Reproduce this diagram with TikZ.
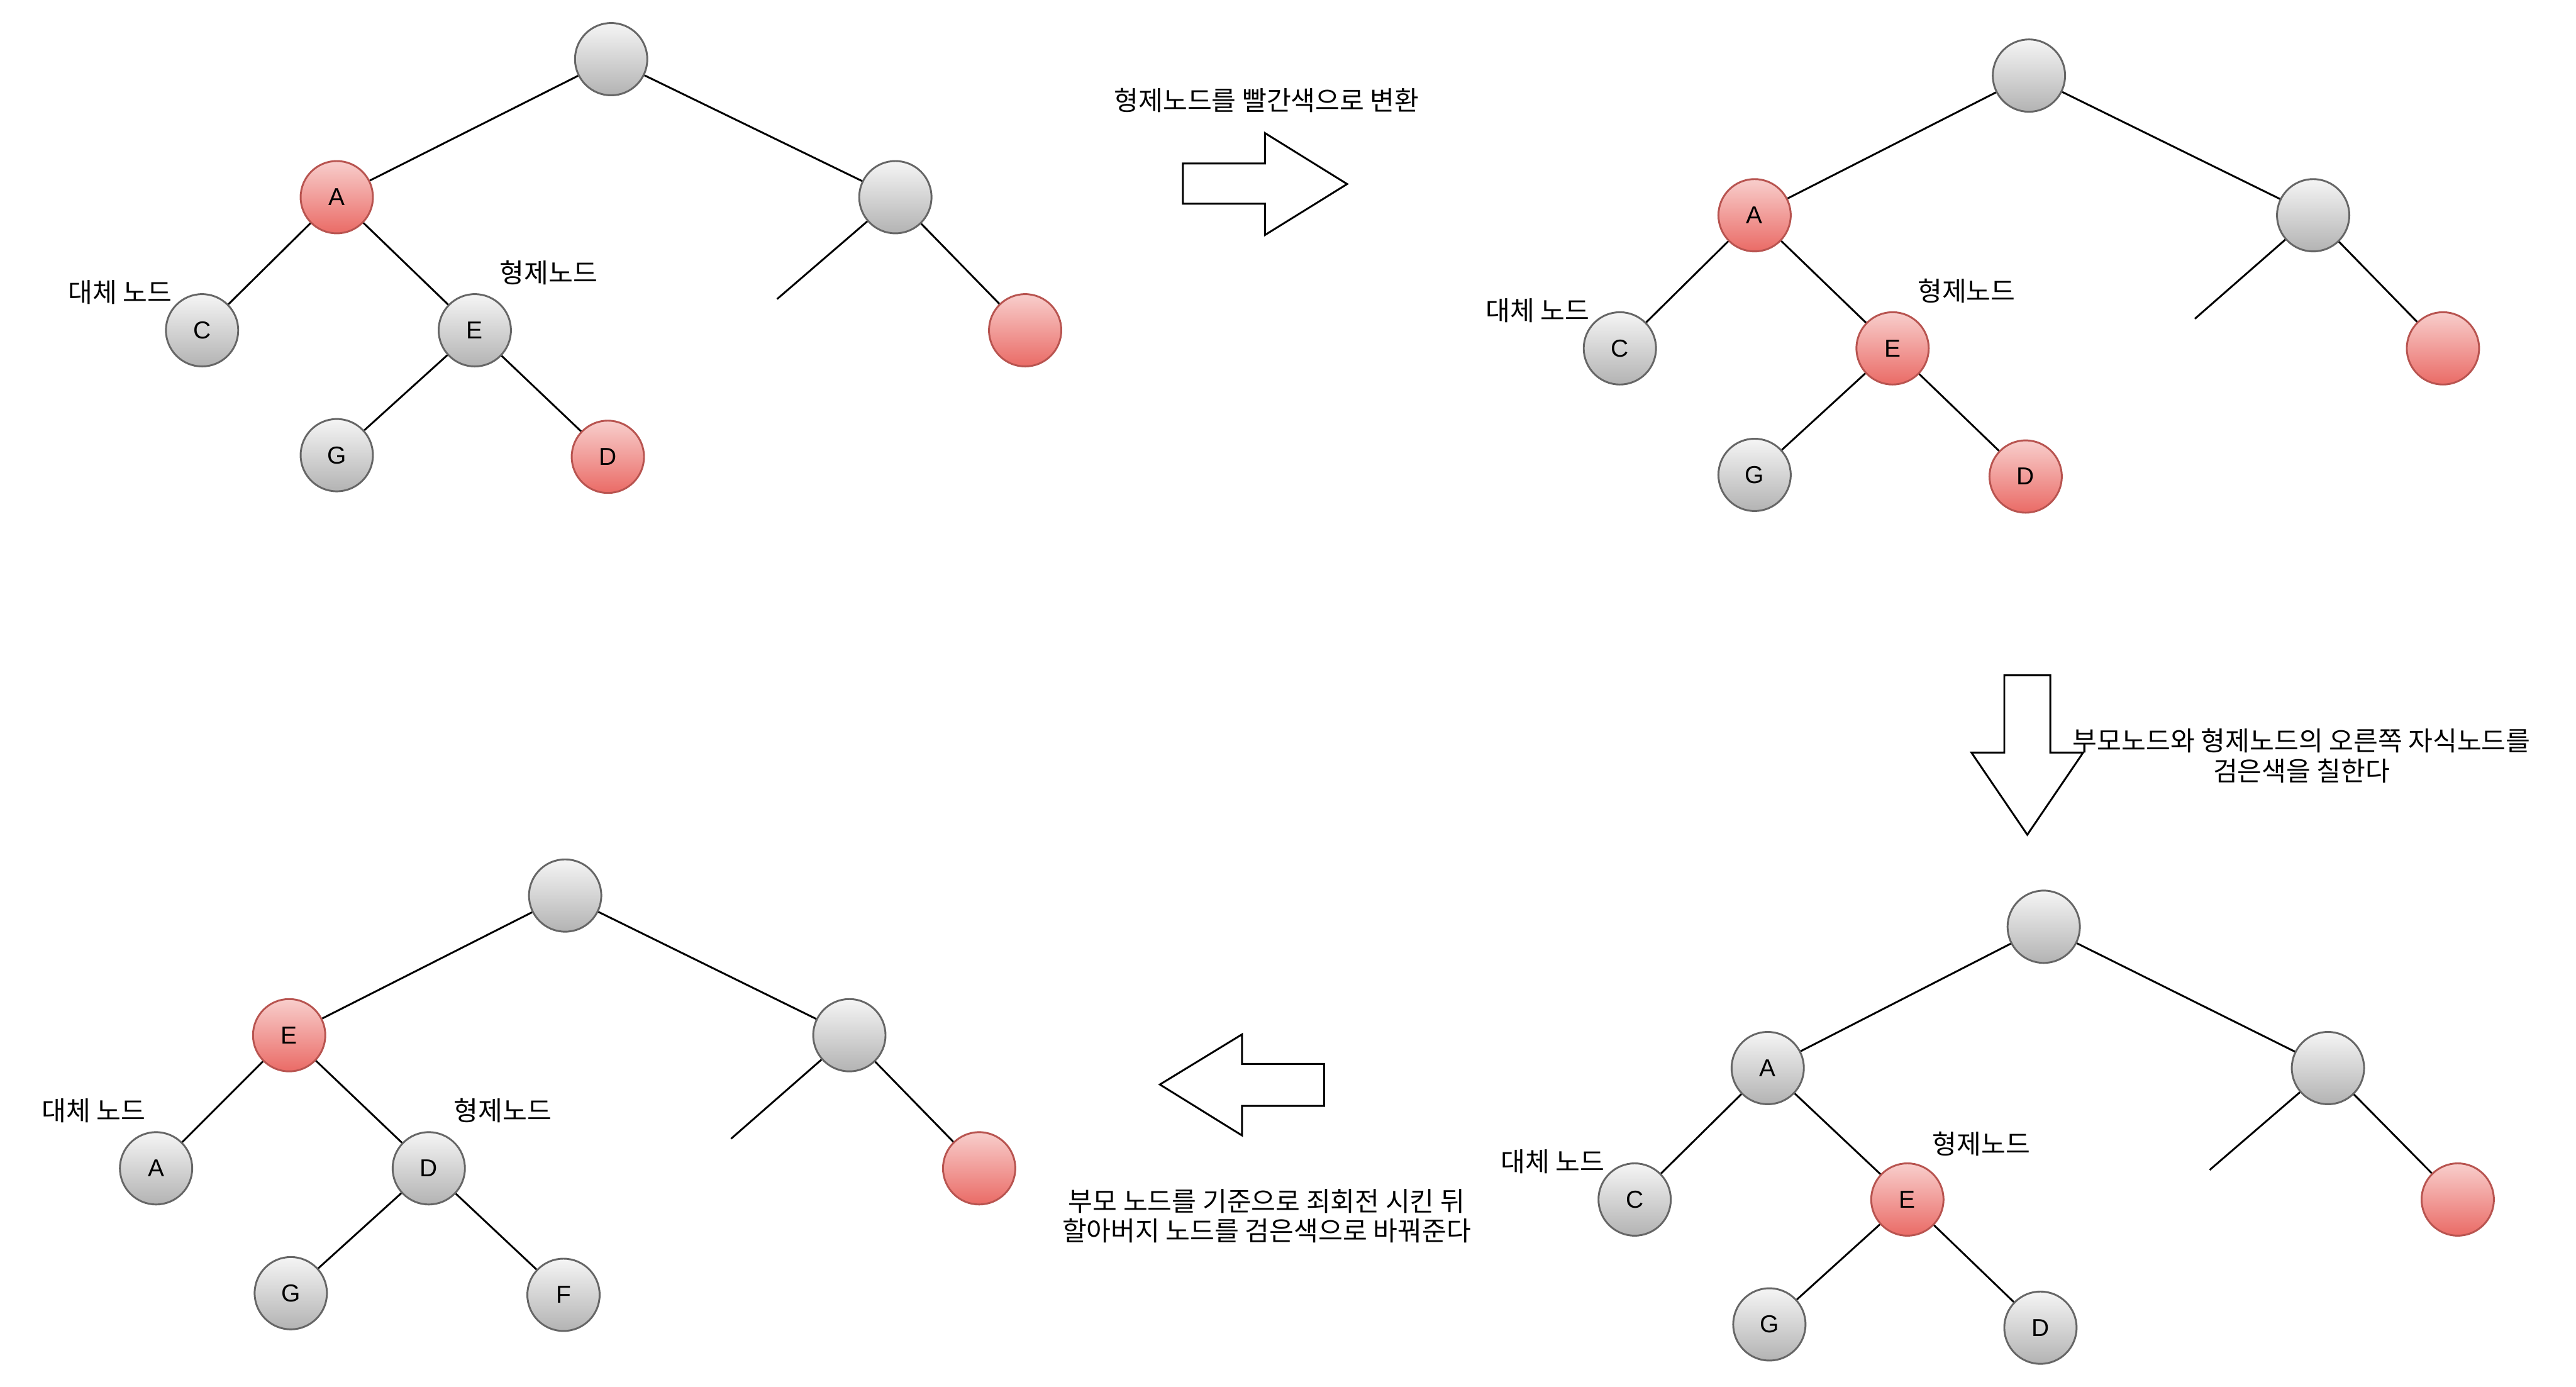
\documentclass[tikz,border=0pt]{standalone}
\usepackage{fontspec}
\setmainfont{Liberation Sans}
\newfontfamily\krfont{Noto Sans CJK KR}
\usepackage{tikz}
\usepackage{xcolor}

\definecolor{grayTop}{HTML}{F5F5F5}
\definecolor{grayBot}{HTML}{B3B3B3}
\definecolor{grayLine}{HTML}{666666}
\definecolor{redTop}{HTML}{F8CECC}
\definecolor{redBot}{HTML}{EA6B66}
\definecolor{redLine}{HTML}{B85450}

\begin{document}
\begin{tikzpicture}[
    x=0.25mm, y=-0.25mm,
    blacknode/.style={circle, draw=grayLine, line width=0.8pt, top color=grayTop, bottom color=grayBot, minimum size=11mm, inner sep=0pt, font=\fontsize{10.6pt}{12pt}\selectfont},
    rednode/.style={blacknode, draw=redLine, top color=redTop, bottom color=redBot},
    edge/.style={line width=0.8pt},
    lbl/.style={font=\krfont\fontsize{11.5pt}{12.9pt}\selectfont, align=center, inner sep=0pt},
    bigarrow/.style={draw, line width=0.8pt, fill=white}
]
\useasboundingbox (0,0) rectangle (1568,844);

% First tree
\node[blacknode] (root1) at (372,36) {};
\node[rednode] (a1) at (205,120) {A};
\node[blacknode] (q1) at (545,120) {};
\node[blacknode] (c1) at (123,201) {C};
\node[blacknode] (e1) at (289,201) {E};
\node[rednode] (z1) at (624,201) {};
\node[blacknode] (g1) at (205,277) {G};
\node[rednode] (d1) at (370,278) {D};
\coordinate (end1) at (473,182);

\draw[edge] (root1) -- (a1);
\draw[edge] (root1) -- (q1);
\draw[edge] (a1) -- (c1);
\draw[edge] (a1) -- (e1);
\draw[edge] (q1) -- (end1);
\draw[edge] (q1) -- (z1);
\draw[edge] (e1) -- (g1);
\draw[edge] (e1) -- (d1);

\node[lbl] (alt1) at (73,178) {대체 노드};
\node[lbl] (sib1) at (334,166) {형제노드};

% Second tree
\node[blacknode] (root2) at (1235,46) {};
\node[rednode] (a2) at (1068,131) {A};
\node[blacknode] (q2) at (1408,131) {};
\node[blacknode] (c2) at (986,212) {C};
\node[rednode] (e2) at (1152,212) {E};
\node[rednode] (z2) at (1487,212) {};
\node[blacknode] (g2) at (1068,289) {G};
\node[rednode] (d2) at (1233,290) {D};
\coordinate (end2) at (1336,194);

\draw[edge] (root2) -- (a2);
\draw[edge] (root2) -- (q2);
\draw[edge] (a2) -- (c2);
\draw[edge] (a2) -- (e2);
\draw[edge] (q2) -- (end2);
\draw[edge] (q2) -- (z2);
\draw[edge] (e2) -- (g2);
\draw[edge] (e2) -- (d2);

\node[lbl] (alt2) at (936,189) {대체 노드};
\node[lbl] (sib2) at (1197,177) {형제노드};

% Third tree
\node[blacknode] (root3) at (1244,564) {};
\node[blacknode] (a3) at (1076,650) {A};
\node[blacknode] (q3) at (1417,650) {};
\node[blacknode] (c3) at (995,730) {C};
\node[rednode] (e3) at (1161,730) {E};
\node[rednode] (z3) at (1496,730) {};
\node[blacknode] (g3) at (1077,806) {G};
\node[blacknode] (d3) at (1242,808) {D};
\coordinate (end3) at (1345,712);

\draw[edge] (root3) -- (a3);
\draw[edge] (root3) -- (q3);
\draw[edge] (a3) -- (c3);
\draw[edge] (a3) -- (e3);
\draw[edge] (q3) -- (end3);
\draw[edge] (q3) -- (z3);
\draw[edge] (e3) -- (g3);
\draw[edge] (e3) -- (d3);

\node[lbl] (alt3) at (945,707) {대체 노드};
\node[lbl] (sib3) at (1206,696) {형제노드};

% Fourth tree
\node[blacknode] (root4) at (344,545) {};
\node[rednode] (e4) at (176,630) {E};
\node[blacknode] (q4) at (517,630) {};
\node[blacknode] (a4) at (95,711) {A};
\node[blacknode] (d4) at (261,711) {D};
\node[rednode] (z4) at (596,711) {};
\node[blacknode] (g4) at (177,787) {G};
\node[blacknode] (f4) at (343,788) {F};
\coordinate (end4) at (445,693);

\draw[edge] (root4) -- (e4);
\draw[edge] (root4) -- (q4);
\draw[edge] (e4) -- (a4);
\draw[edge] (e4) -- (d4);
\draw[edge] (q4) -- (end4);
\draw[edge] (q4) -- (z4);
\draw[edge] (d4) -- (g4);
\draw[edge] (d4) -- (f4);

\node[lbl] (alt4) at (57,676) {대체 노드};
\node[lbl] (sib4) at (306,676) {형제노드};

% Step arrows
\draw[bigarrow] (720,99.5) -- (770,99.5) -- (770,81) -- (820,112) -- (770,143) -- (770,124) -- (720,124) -- cycle;
\node[lbl] (step1) at (771,61) {형제노드를 빨간색으로 변환};

\draw[bigarrow] (1220,411) -- (1248,411) -- (1248,458) -- (1268,458) -- (1234,508) -- (1200,458) -- (1220,458) -- cycle;
\node[lbl] (step2) at (1401,460) {부모노드와 형제노드의 오른쪽 자식노드를\\검은색을 칠한다};

\draw[bigarrow] (806,647.5) -- (756,647.5) -- (756,629.5) -- (706,660) -- (756,691) -- (756,673) -- (806,673) -- cycle;
\node[lbl] (step3) at (771,740) {부모 노드를 기준으로 죄회전 시킨 뒤\\할아버지 노드를 검은색으로 바꿔준다};

\end{tikzpicture}
\end{document}
